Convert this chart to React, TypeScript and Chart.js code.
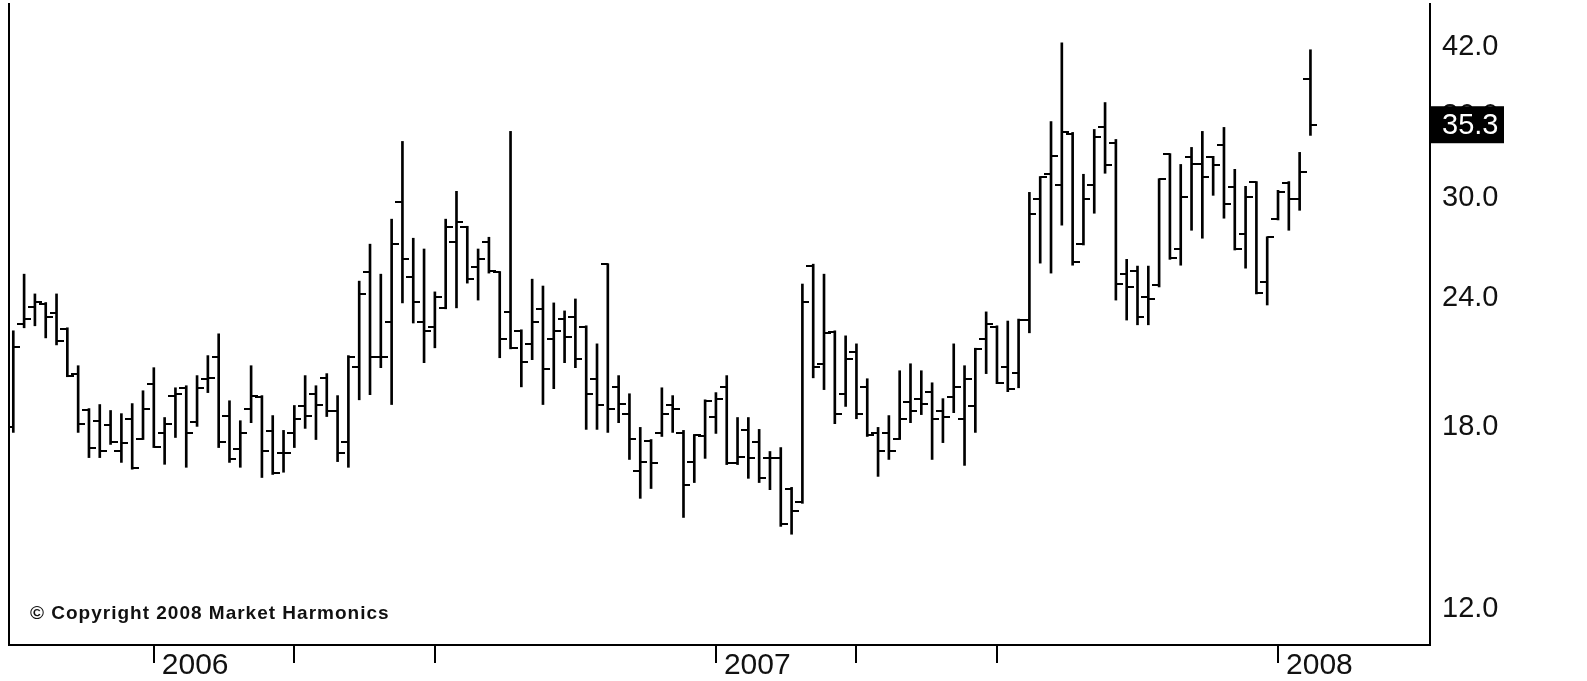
import React, { useEffect, useRef } from 'react';
import { Chart, registerables } from 'chart.js';

Chart.register(...registerables);

// Weekly bars (week ending Friday)
const DATES = [
  '2005-10-07', '2005-10-14', '2005-10-21', '2005-10-28', '2005-11-04', '2005-11-11', '2005-11-18', '2005-11-25', '2005-12-02', '2005-12-09', '2005-12-16', '2005-12-23', '2005-12-30',
  '2006-01-06', '2006-01-13', '2006-01-20', '2006-01-27', '2006-02-03', '2006-02-10', '2006-02-17', '2006-02-24', '2006-03-03', '2006-03-10', '2006-03-17', '2006-03-24', '2006-03-31',
  '2006-04-07', '2006-04-14', '2006-04-21', '2006-04-28', '2006-05-05', '2006-05-12', '2006-05-19', '2006-05-26', '2006-06-02', '2006-06-09', '2006-06-16', '2006-06-23', '2006-06-30',
  '2006-07-07', '2006-07-14', '2006-07-21', '2006-07-28', '2006-08-04', '2006-08-11', '2006-08-18', '2006-08-25', '2006-09-01', '2006-09-08', '2006-09-15', '2006-09-22', '2006-09-29',
  '2006-10-06', '2006-10-13', '2006-10-20', '2006-10-27', '2006-11-03', '2006-11-10', '2006-11-17', '2006-11-24', '2006-12-01', '2006-12-08', '2006-12-15', '2006-12-22', '2006-12-29',
  '2007-01-05', '2007-01-12', '2007-01-19', '2007-01-26', '2007-02-02', '2007-02-09', '2007-02-16', '2007-02-23', '2007-03-02', '2007-03-09', '2007-03-16', '2007-03-23', '2007-03-30',
  '2007-04-06', '2007-04-13', '2007-04-20', '2007-04-27', '2007-05-04', '2007-05-11', '2007-05-18', '2007-05-25', '2007-06-01', '2007-06-08', '2007-06-15', '2007-06-22', '2007-06-29',
  '2007-07-06', '2007-07-13', '2007-07-20', '2007-07-27', '2007-08-03', '2007-08-10', '2007-08-17', '2007-08-24', '2007-08-31', '2007-09-07', '2007-09-14', '2007-09-21', '2007-09-28',
  '2007-10-05', '2007-10-12', '2007-10-19', '2007-10-26', '2007-11-02', '2007-11-09', '2007-11-16', '2007-11-23', '2007-11-30', '2007-12-07', '2007-12-14', '2007-12-21', '2007-12-28',
  '2008-01-04', '2008-01-11', '2008-01-18', '2008-01-25',
];

const OPEN = [
  17.98, 22.64, 23.52, 23.67, 23.21, 22.40, 20.27, 18.71, 18.25, 18.06,
  17.04, 18.33, 17.54, 19.82, 17.74, 19.30, 19.64, 18.21, 20.04, 21.05,
  18.46, 17.15, 18.75, 19.25, 17.82, 16.97, 17.74, 18.84, 19.38, 20.08,
  18.67, 17.42, 20.58, 25.41, 21.05, 22.74, 29.69, 25.13, 22.74, 22.50,
  23.47, 27.17, 28.09, 25.70, 27.17, 25.41, 23.26, 22.30, 21.66, 23.41,
  21.90, 22.89, 23.00, 22.50, 20.04, 25.87, 19.68, 18.54, 16.30, 17.46,
  17.74, 18.88, 17.74, 16.66, 17.62, 18.42, 19.68, 16.59, 17.86, 17.42,
  16.78, 16.78, 15.69, 15.21, 25.76, 20.72, 22.25, 19.38, 21.28, 19.68,
  17.74, 17.74, 17.54, 19.04, 19.17, 19.47, 18.63, 19.25, 18.33, 18.84,
  21.90, 22.50, 20.58, 20.31, 22.84, 29.89, 31.61, 30.84, 34.55, 27.05,
  30.84, 35.09, 33.86, 25.30, 25.47, 24.05, 24.69, 33.04, 26.76, 32.82,
  32.31, 32.82, 33.71, 30.70, 27.66, 31.04, 24.86, 28.60, 30.97, 29.89,
  39.13,
];

const HIGH = [
  22.30, 25.30, 24.21, 23.75, 24.21, 22.45, 20.63, 18.75, 18.92, 18.67,
  18.54, 18.96, 19.51, 20.54, 18.38, 19.64, 19.73, 20.18, 21.10, 22.15,
  19.08, 18.25, 20.63, 19.30, 18.46, 17.86, 18.88, 20.18, 19.73, 20.27,
  19.30, 21.10, 24.91, 27.05, 25.30, 28.60, 34.01, 27.41, 26.76, 24.32,
  28.60, 30.43, 28.15, 26.76, 27.47, 25.45, 34.78, 22.35, 25.02, 24.64,
  23.73, 23.31, 23.94, 22.55, 21.66, 25.90, 20.18, 19.38, 17.98, 17.50,
  19.64, 19.30, 17.86, 17.70, 19.12, 19.43, 20.18, 18.38, 18.38, 17.90,
  17.04, 17.19, 15.73, 24.75, 25.87, 25.30, 22.30, 22.05, 21.66, 20.04,
  17.98, 18.46, 20.40, 20.72, 20.40, 19.86, 19.17, 21.66, 20.63, 21.45,
  23.26, 22.55, 22.79, 22.89, 30.36, 31.45, 35.55, 42.37, 34.70, 31.61,
  34.93, 37.09, 34.16, 26.15, 25.76, 25.76, 31.30, 33.10, 32.31, 33.56,
  34.78, 32.90, 35.09, 31.96, 30.77, 31.10, 27.50, 30.50, 31.10, 33.19,
  41.72,
];

const LOW = [
  17.78, 22.45, 22.55, 21.95, 21.61, 20.13, 17.78, 16.81, 16.81, 17.31,
  16.63, 16.38, 17.50, 17.19, 16.56, 17.58, 16.45, 18.02, 19.43, 17.19,
  16.63, 16.45, 18.17, 16.08, 16.19, 16.27, 17.19, 17.94, 17.50, 18.42,
  16.66, 16.45, 19.12, 19.34, 20.54, 18.92, 23.73, 22.69, 20.77, 21.47,
  23.42, 23.47, 24.80, 23.88, 25.36, 21.00, 21.42, 19.68, 20.91, 18.92,
  19.60, 20.77, 20.54, 17.90, 17.90, 17.78, 18.17, 16.74, 15.35, 15.69,
  17.62, 17.78, 14.71, 15.90, 16.78, 17.74, 16.55, 16.55, 16.05, 15.90,
  15.65, 14.42, 14.17, 15.18, 20.08, 19.56, 18.13, 18.84, 18.33, 17.62,
  16.12, 16.74, 17.50, 18.17, 18.50, 16.74, 17.38, 18.58, 16.52, 17.78,
  20.27, 19.82, 19.47, 19.64, 22.20, 25.93, 25.36, 28.22, 25.81, 27.00,
  28.98, 31.68, 23.88, 22.84, 22.60, 22.60, 24.59, 26.15, 25.81, 27.90,
  27.41, 30.16, 28.66, 26.70, 25.64, 24.21, 23.62, 28.55, 27.90, 29.17,
  34.47,
];

const CLOSE = [
  21.52, 22.89, 23.78, 23.00, 21.80, 20.18, 18.13, 17.19, 17.04, 17.42,
  17.35, 16.41, 18.75, 17.23, 18.13, 19.38, 17.74, 19.64, 20.08, 17.42,
  16.74, 17.74, 19.30, 17.04, 16.23, 16.97, 18.33, 18.46, 18.88, 18.67,
  17.00, 21.05, 24.21, 21.05, 21.05, 27.05, 26.15, 23.78, 22.30, 24.05,
  28.09, 28.40, 25.02, 26.15, 25.47, 21.90, 21.47, 20.81, 22.74, 20.49,
  22.30, 22.00, 20.95, 19.38, 18.88, 18.75, 18.96, 17.54, 16.66, 16.59,
  18.54, 18.75, 15.80, 17.66, 19.08, 19.17, 16.59, 16.85, 16.78, 16.05,
  16.78, 14.51, 14.91, 23.78, 20.58, 22.20, 18.54, 20.95, 18.54, 17.66,
  17.04, 17.04, 18.33, 18.63, 18.96, 18.33, 18.42, 19.68, 20.04, 21.42,
  22.64, 19.86, 19.60, 22.84, 28.91, 31.39, 32.96, 34.70, 25.98, 29.89,
  34.31, 32.24, 24.75, 24.59, 23.00, 23.94, 31.25, 26.21, 30.03, 32.31,
  31.39, 32.24, 29.56, 26.76, 30.03, 24.26, 27.47, 30.36, 29.89, 31.75,
  35.30,
];

const Y_TICKS = [12, 18, 24, 30, 36, 42];
const X_TICK_DATES = ['2006-01-06', '2006-04-07', '2006-07-07', '2007-01-05', '2007-04-06', '2007-07-06', '2008-01-04'];
const X_TICK_LABELS = ['2006', '', '', '2007', '', '', '2008'];
const COPYRIGHT = '\u00A9 Copyright 2008 Market Harmonics';

const FONT = "'Liberation Sans', Arial, Helvetica, sans-serif";
const dayNum = (s: string) => Date.parse(s + 'T00:00:00Z') / 86400000;

const Y_MIN = 11.07;
const Y_MAX = 46.2;
const X_MIN = dayNum(DATES[0]) - 2.78;
const X_MAX = X_MIN + 920.2;

function makeTick(side: 'left' | 'right') {
  const c = document.createElement('canvas');
  c.width = 14;
  c.height = 2;
  const ctx = c.getContext('2d')!;
  ctx.fillStyle = '#000';
  ctx.fillRect(side === 'left' ? 0 : 7, 0, 7, 2);
  return c;
}

const zeroPadding = (s: any) => {
  s.paddingTop = 0;
  s.paddingBottom = 0;
  s.paddingLeft = 0;
  s.paddingRight = 0;
};

const overlayPlugin = {
  id: 'overlay',
  afterDraw(chart: any) {
    const { ctx, chartArea, scales } = chart;
    const last = CLOSE[CLOSE.length - 1];
    const y = scales.y.getPixelForValue(last);
    ctx.save();
    ctx.fillStyle = '#000';
    ctx.fillRect(chartArea.right, y - 18.5, 74, 37);
    ctx.fillStyle = '#fff';
    ctx.font = `29px ${FONT}`;
    ctx.textAlign = 'left';
    ctx.textBaseline = 'middle';
    ctx.fillText(last.toFixed(1), chartArea.right + 12, y + 1);

    ctx.fillStyle = '#111';
    ctx.font = `bold 19px ${FONT}`;
    try { (ctx as any).letterSpacing = '1px'; } catch (e) { /* ignore */ }
    ctx.textBaseline = 'alphabetic';
    ctx.fillText(COPYRIGHT, chartArea.left + 21, chartArea.bottom - 26);
    ctx.restore();
  },
};

export default function App() {
  const ref = useRef<HTMLCanvasElement>(null);

  useEffect(() => {
    if (!ref.current) return;
    const xs = DATES.map(dayNum);
    const leftTick = makeTick('left');
    const rightTick = makeTick('right');

    const chart = new Chart(ref.current, {
      type: 'bar',
      data: {
        datasets: [
          {
            type: 'bar',
            label: 'High-Low',
            data: xs.map((x, i) => ({ x, y: [LOW[i], HIGH[i]] })) as any,
            backgroundColor: '#000',
            borderWidth: 0,
            barThickness: 2,
          } as any,
          {
            type: 'scatter',
            label: 'Open',
            data: xs.map((x, i) => ({ x, y: OPEN[i] })),
            pointStyle: leftTick as any,
            pointRadius: 3,
            pointHoverRadius: 3,
          } as any,
          {
            type: 'scatter',
            label: 'Close',
            data: xs.map((x, i) => ({ x, y: CLOSE[i] })),
            pointStyle: rightTick as any,
            pointRadius: 3,
            pointHoverRadius: 3,
          } as any,
        ],
      },
      options: {
        responsive: false,
        animation: false,
        events: [],
        layout: { padding: { top: 1, left: 0, right: 0, bottom: 0 } },
        plugins: { legend: { display: false }, tooltip: { enabled: false }, title: { display: false } },
        scales: {
          x: {
            type: 'linear',
            position: 'bottom',
            min: X_MIN,
            max: X_MAX,
            bounds: 'data',
            offset: false,
            afterBuildTicks: (s: any) => {
              s.ticks = X_TICK_DATES.map((d) => ({ value: dayNum(d) }));
            },
            afterFit: (s: any) => {
              s.height = 36;
              zeroPadding(s);
            },
            grid: {
              drawOnChartArea: false,
              drawTicks: true,
              tickLength: 18,
              tickColor: '#000',
              tickWidth: 2,
              offset: false,
              color: '#000',
              lineWidth: 2,
            },
            border: { display: true, color: '#000', width: 2 },
            ticks: {
              autoSkip: false,
              maxRotation: 0,
              minRotation: 0,
              align: 'start',
              labelOffset: 8,
              padding: -15,
              color: '#111',
              font: { family: FONT, size: 30 },
              callback: (_v: any, i: number) => X_TICK_LABELS[i] ?? '',
            },
          } as any,
          y: {
            type: 'logarithmic',
            position: 'right',
            min: Y_MIN,
            max: Y_MAX,
            bounds: 'data',
            beginAtZero: false,
            afterBuildTicks: (s: any) => {
              s.ticks = Y_TICKS.map((v) => ({ value: v }));
            },
            afterFit: (s: any) => {
              s.width = 157;
              zeroPadding(s);
            },
            grid: { drawOnChartArea: false, drawTicks: false },
            border: { display: true, color: '#000', width: 2 },
            ticks: {
              autoSkip: false,
              padding: 12,
              color: '#111',
              font: { family: FONT, size: 29 },
              callback: (v: any) => Number(v).toFixed(1),
            },
          } as any,
          yLeft: {
            type: 'linear',
            position: 'left',
            display: true,
            ticks: { display: false },
            grid: { drawOnChartArea: false, drawTicks: false },
            border: { display: true, color: '#000', width: 2 },
            afterFit: (s: any) => {
              s.width = 9;
              zeroPadding(s);
            },
          } as any,
        },
      },
      plugins: [overlayPlugin],
    } as any);

    return () => chart.destroy();
  }, []);

  return (
    <div style={{ position: 'absolute', left: 0, top: 0, width: 1587, height: 681, background: '#fff' }}>
      <canvas ref={ref} width={1587} height={681} style={{ display: 'block', width: 1587, height: 681 }} />
    </div>
  );
}
